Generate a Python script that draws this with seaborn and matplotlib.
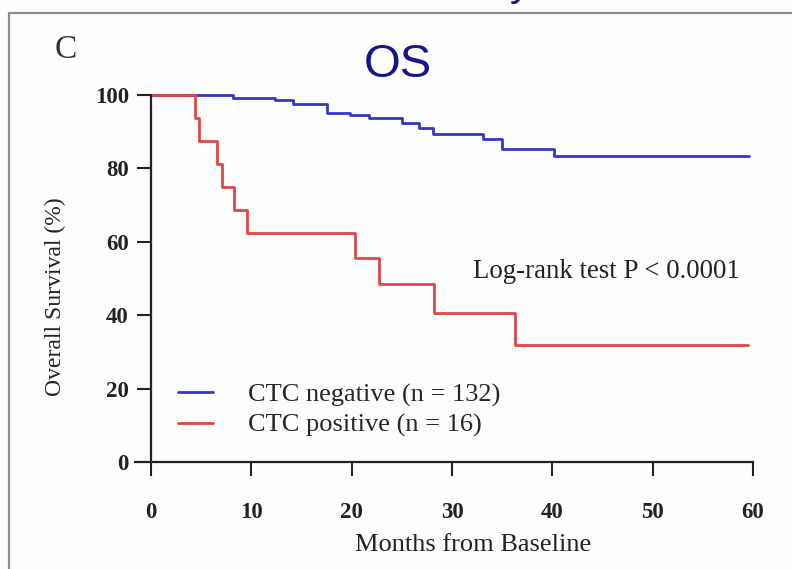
import matplotlib
matplotlib.use("Agg")
import matplotlib.pyplot as plt
import pandas as pd
import seaborn as sns
from matplotlib.lines import Line2D

# Kaplan-Meier step values (months, % surviving), one array per group
neg_label = "CTC negative (n = 132)"
pos_label = "CTC positive (n = 16)"

neg_months = [0, 8.2, 12.4, 14.2, 17.5, 19.8, 21.7, 25.0, 26.7, 28.1, 33.1, 35.0, 40.2, 59.6]
neg_surv = [100, 99.1, 98.6, 97.5, 95.0, 94.6, 93.7, 92.3, 91.0, 89.4, 88.0, 85.3, 83.5, 83.5]

pos_months = [0, 4.4, 4.8, 6.6, 7.1, 8.3, 9.6, 20.3, 22.7, 28.2, 36.3, 59.5]
pos_surv = [100, 93.75, 87.5, 81.25, 75.0, 68.75, 62.5, 55.6, 48.6, 40.5, 31.9, 31.9]

x_ticks = [0, 10, 20, 30, 40, 50, 60]
y_ticks = [0, 20, 40, 60, 80, 100]

blue = "#3636c8"
red = "#e04646"
navy = "#16168a"
ink = "#222222"

sns.set_style("ticks")
plt.rcParams["font.family"] = ["Liberation Serif", "DejaVu Serif"]

df = pd.concat([
    pd.DataFrame({"months": neg_months, "survival": neg_surv, "group": neg_label}),
    pd.DataFrame({"months": pos_months, "survival": pos_surv, "group": pos_label}),
], ignore_index=True)

W, H = 792, 569
fig = plt.figure(figsize=(W / 100, H / 100), dpi=100)
fig.patch.set_facecolor("#fdfdfd")

# axes box: left edge carries the extended x-axis line, month 0 sits at px 151
ax = fig.add_axes([135 / W, (H - 462) / H, (753 - 135) / W, (462 - 95) / H])
ax.set_facecolor("none")

sns.lineplot(data=df, x="months", y="survival", hue="group",
             hue_order=[neg_label, pos_label],
             palette={neg_label: blue, pos_label: red},
             drawstyle="steps-post", estimator=None, sort=False,
             linewidth=2.0, ax=ax)
for ln in ax.lines:
    ln.set_clip_on(False)

ax.set_xlim(-1.595, 60)
ax.set_ylim(0, 100)
ax.spines["left"].set_position(("data", 0))
ax.spines["left"].set_bounds(0, 100)
ax.spines["top"].set_visible(False)
ax.spines["right"].set_visible(False)
for s in ("left", "bottom"):
    ax.spines[s].set_linewidth(1.6)
    ax.spines[s].set_color(ink)

ax.set_xticks(x_ticks)
ax.set_yticks(y_ticks)
ax.tick_params(axis="both", direction="out", length=10, width=1.5, color=ink,
               labelsize=16.5, labelcolor=ink)
ax.tick_params(axis="x", pad=19)
ax.tick_params(axis="y", pad=6)
for lab in ax.get_xticklabels() + ax.get_yticklabels():
    lab.set_fontweight("bold")

ax.set_xlabel("Months from Baseline", fontsize=19, color=ink)
ax.xaxis.set_label_coords((473 - 135) / 618, -(545 - 462) / 367)
ax.xaxis.label.set_va("center")
ax.set_ylabel("")
fig.text(55 / W, 1 - 297 / H, "Overall Survival (%)", rotation=90,
         ha="center", va="center", fontsize=17, color=ink)

ax.text(45.4, 51.8, "Log-rank test P < 0.0001", fontsize=19.4, color=ink,
        ha="center", va="center")

old = ax.get_legend()
handles = old.legend_handles
labels = [t.get_text() for t in old.get_texts()]
for h in handles:
    h.set_linewidth(2.0)
ax.legend(handles, labels, loc="upper left", bbox_to_anchor=(0.069, 0.215),
          frameon=False, fontsize=19, handlelength=1.35, handletextpad=1.3,
          labelspacing=0.25, borderpad=0, borderaxespad=0)

# panel letter and heading
fig.text(66 / W, 1 - 50 / H, "C", fontsize=24, color="#333333",
         ha="center", va="center")
fig.text(398 / W, 1 - 65 / H, "OS", fontsize=34, color=navy,
         ha="center", va="center", family=["Liberation Sans", "DejaVu Sans"])
fig.text(520 / W, 1 + 5 / H, "y", fontsize=30, color=navy,
         ha="center", va="baseline", family=["Liberation Sans", "DejaVu Sans"])

# grey panel frame along the top and left edges
fig.add_artist(Line2D([9 / W, 9 / W], [0, 1 - 13 / H], transform=fig.transFigure,
                      color="#8c8c8c", linewidth=1.6))
fig.add_artist(Line2D([9 / W, 1], [1 - 13 / H, 1 - 13 / H], transform=fig.transFigure,
                      color="#8c8c8c", linewidth=1.6))

fig.savefig("out.png", dpi=100, facecolor=fig.get_facecolor())
